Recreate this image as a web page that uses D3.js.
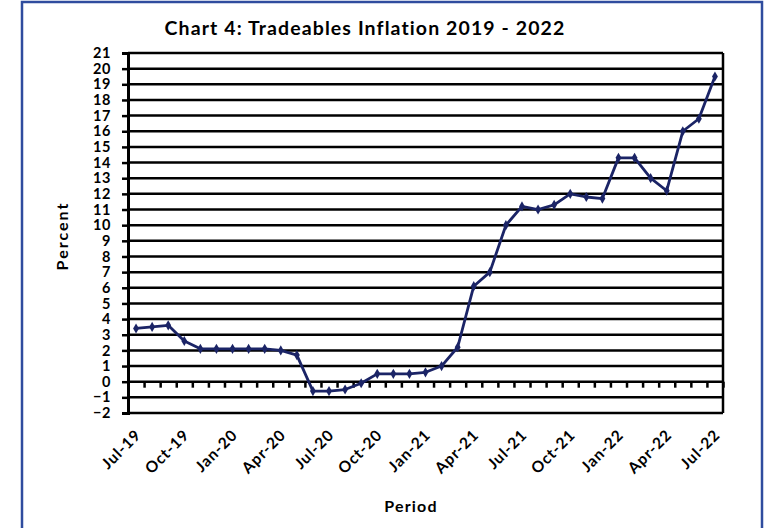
<!DOCTYPE html>
<html>
<head>
<meta charset="utf-8">
<script src="https://cdn.jsdelivr.net/npm/d3@7"></script>
<style>
    body { margin: 0; background: #fff; }
    svg { display: block; }
    text { font-family: "Century Gothic", Lato, "DejaVu Sans", sans-serif; font-weight: bold; fill: #000; }
</style>
</head>
<body>
<div class="chart-svg"></div>
<script>
var months = ['Jul-19','Aug-19','Sep-19','Oct-19','Nov-19','Dec-19',
    'Jan-20','Feb-20','Mar-20','Apr-20','May-20','Jun-20','Jul-20','Aug-20','Sep-20','Oct-20','Nov-20','Dec-20',
    'Jan-21','Feb-21','Mar-21','Apr-21','May-21','Jun-21','Jul-21','Aug-21','Sep-21','Oct-21','Nov-21','Dec-21',
    'Jan-22','Feb-22','Mar-22','Apr-22','May-22','Jun-22','Jul-22'];
var inflation = [3.4, 3.5, 3.6, 2.6, 2.1, 2.1,
    2.1, 2.1, 2.1, 2.0, 1.7, -0.6, -0.6, -0.5, -0.1, 0.5, 0.5, 0.5,
    0.6, 1.0, 2.2, 6.1, 7.0, 10.0, 11.2, 11.0, 11.3, 12.0, 11.8, 11.7,
    14.3, 14.3, 13.0, 12.2, 16.0, 16.8, 19.5];
var xLabels = ['Jul-19','Oct-19','Jan-20','Apr-20','Jul-20','Oct-20','Jan-21','Apr-21','Jul-21','Oct-21','Jan-22','Apr-22','Jul-22'];
var yTicks = d3.range(-2, 22);

var svgWidth = 775;
var svgHeight = 528;
var padding = {top: 53, right: 52, bottom: 115, left: 128};

var svg = d3.select(".chart-svg")
    .append("svg")
    .attr("width", svgWidth)
    .attr("height", svgHeight);

// outer frame
svg.append("rect")
    .attr("x", 22).attr("y", 2)
    .attr("width", 740).attr("height", 560)
    .attr("fill", "none")
    .attr("stroke", "#2f4c9e")
    .attr("stroke-width", 2.5);

var xScale = d3.scaleBand()
    .domain(months)
    .range([padding.left, svgWidth - padding.right]);

var yScale = d3.scaleLinear()
    .domain([-2, 21])
    .range([svgHeight - padding.bottom, padding.top]);

// horizontal gridlines
svg.append("g")
    .selectAll("line")
    .data(yTicks)
    .enter()
    .append("line")
    .attr("x1", padding.left)
    .attr("x2", svgWidth - padding.right)
    .attr("y1", function(d){ return yScale(d); })
    .attr("y2", function(d){ return yScale(d); })
    .attr("stroke", "#000")
    .attr("stroke-width", 2.5);

// right border
svg.append("line")
    .attr("x1", svgWidth - padding.right).attr("x2", svgWidth - padding.right)
    .attr("y1", padding.top).attr("y2", svgHeight - padding.bottom)
    .attr("stroke", "#000").attr("stroke-width", 2.5);

// y axis
var yAxis = d3.axisLeft(yScale)
    .tickValues(yTicks)
    .tickSize(6)
    .tickPadding(11)
    .tickFormat(d3.format("d"));

var yAxisG = svg.append("g")
    .attr("transform", "translate(" + padding.left + ",0)")
    .call(yAxis);
yAxisG.select(".domain").attr("stroke", "#000").attr("stroke-width", 3);
yAxisG.selectAll(".tick line").attr("stroke", "#000").attr("stroke-width", 2.5);
yAxisG.selectAll(".tick text")
    .attr("font-size", 14.5)
    .attr("letter-spacing", 0.6)
    .style("font-family", null);

// x axis tick marks on the zero line, between categories
var boundScale = d3.scaleLinear()
    .domain([0, months.length])
    .range([padding.left, svgWidth - padding.right]);

var xAxis = d3.axisBottom(boundScale)
    .tickValues(d3.range(0, months.length + 1))
    .tickSize(6)
    .tickFormat("");

var xAxisG = svg.append("g")
    .attr("transform", "translate(0," + yScale(0) + ")")
    .call(xAxis);
xAxisG.select(".domain").remove();
xAxisG.selectAll(".tick line").attr("stroke", "#000").attr("stroke-width", 2.5);

// category labels
svg.append("g")
    .selectAll("text")
    .data(xLabels)
    .enter()
    .append("text")
    .attr("text-anchor", "end")
    .attr("font-size", 15.5)
    .attr("letter-spacing", 0.9)
    .attr("transform", function(d){
        var x = xScale(d) + xScale.bandwidth() / 2 + 6;
        return "translate(" + x + "," + (svgHeight - padding.bottom + 23) + ") rotate(-45)";
    })
    .text(function(d){ return d; });

// data line
var line = d3.line()
    .x(function(d, i){ return xScale(months[i]) + xScale.bandwidth() / 2; })
    .y(function(d){ return yScale(d); });

svg.append("path")
    .datum(inflation)
    .attr("d", line)
    .attr("fill", "none")
    .attr("stroke", "#1b2466")
    .attr("stroke-width", 2.8)
    .attr("stroke-linejoin", "round");

svg.append("g")
    .selectAll("path")
    .data(inflation)
    .enter()
    .append("path")
    .attr("d", d3.symbol().type(d3.symbolDiamond).size(30))
    .attr("transform", function(d, i){
        return "translate(" + (xScale(months[i]) + xScale.bandwidth() / 2) + "," + yScale(d) + ")";
    })
    .attr("fill", "#1b2466");

// titles
svg.append("text")
    .attr("x", 365).attr("y", 35)
    .attr("text-anchor", "middle")
    .attr("font-size", 19.5)
    .attr("letter-spacing", 1.1)
    .text("Chart 4: Tradeables Inflation 2019 - 2022");

svg.append("text")
    .attr("text-anchor", "middle")
    .attr("font-size", 16)
    .attr("letter-spacing", 2)
    .attr("transform", "translate(68,236) rotate(-90)")
    .text("Percent");

svg.append("text")
    .attr("x", 411).attr("y", 512)
    .attr("text-anchor", "middle")
    .attr("font-size", 16)
    .attr("letter-spacing", 1.2)
    .text("Period");
</script>
</body>
</html>
